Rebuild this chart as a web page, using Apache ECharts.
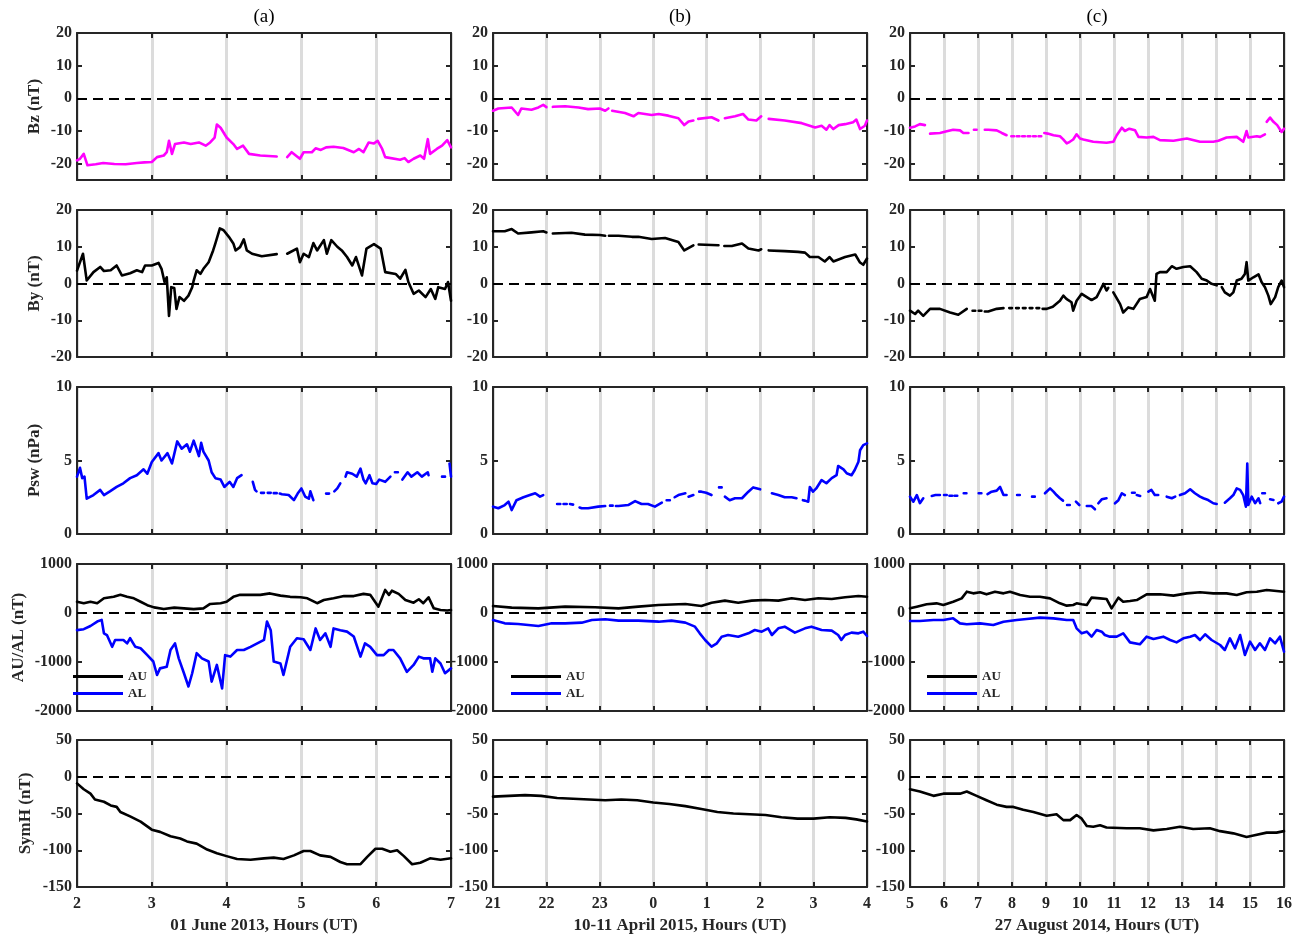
<!DOCTYPE html>
<html><head><meta charset="utf-8">
<script src="https://cdn.jsdelivr.net/npm/echarts@6/dist/echarts.min.js"></script>
<style>html,body{margin:0;padding:0;background:#fff}#c{width:1299px;height:938px}</style>
</head><body><div id="c"></div><script>
// ---------- tick labels ----------
const bzTicks = [-20,-10,0,10,20];
const byTicks = [-20,-10,0,10,20];
const pswTicks = [0,5,10];
const aeTicks = [-2000,-1000,0,1000];
const symTicks = [-150,-100,-50,0,50];

// ---------- column (a): 01 June 2013 ----------
const bzA = [[2.00,-19],[2.04,-18.5],[2.09,-17],[2.14,-20.5],[2.25,-20.2],[2.35,-19.8],[2.5,-20.1],[2.65,-20.2],[2.8,-19.8],[2.9,-19.6],[3.0,-19.5],[3.07,-18],[3.16,-17.5],[3.2,-16.5],[3.23,-13],[3.27,-17],[3.31,-14],[3.43,-13.5],[3.52,-14],[3.63,-13.5],[3.72,-14.5],[3.78,-13.5],[3.84,-12],[3.87,-8],[3.92,-9],[4.0,-12],[4.09,-14],[4.14,-15.5],[4.22,-14.5],[4.3,-17],[4.45,-17.5],[4.67,-17.8],[4.72,null],[4.81,-18],[4.87,-16.5],[4.98,-18.5],[5.03,-16.5],[5.14,-16.5],[5.19,-15.3],[5.26,-15.8],[5.33,-15],[5.43,-14.8],[5.56,-15.2],[5.7,-16.5],[5.77,-15.5],[5.83,-16.5],[5.9,-13.5],[5.97,-13.8],[6.02,-13],[6.08,-15.5],[6.12,-18],[6.32,-18.8],[6.38,-18.3],[6.43,-19.5],[6.5,-18.5],[6.59,-17.5],[6.64,-18.5],[6.69,-12.5],[6.72,-17],[6.81,-15.5],[6.88,-14.5],[6.95,-12.8],[7.0,-15]];
const byA = [[2.0,3.5],[2.08,8.1],[2.13,0.8],[2.22,3.1],[2.31,4.5],[2.36,3.4],[2.45,3.6],[2.53,4.9],[2.6,2.2],[2.71,2.8],[2.8,3.6],[2.87,3.1],[2.91,4.9],[3.0,4.9],[3.09,5.6],[3.13,4.0],[3.17,0.4],[3.2,1.7],[3.23,-8.8],[3.26,-1],[3.3,-1.2],[3.33,-6.9],[3.37,-3.7],[3.43,-4.7],[3.49,-3.3],[3.54,-1],[3.56,0.8],[3.6,3.6],[3.65,2.6],[3.69,4.0],[3.76,5.8],[3.82,9],[3.85,10.9],[3.91,15],[3.96,14.5],[4.03,12.7],[4.09,10.9],[4.12,9],[4.18,9.9],[4.23,12],[4.27,9],[4.34,8.1],[4.47,7.4],[4.67,8],[4.72,null],[4.81,8.1],[4.94,9.5],[4.98,5.8],[5.03,8.1],[5.1,7.2],[5.16,11],[5.21,9],[5.3,11.8],[5.34,8.1],[5.4,11.8],[5.48,10],[5.54,9],[5.61,7.2],[5.68,4.9],[5.73,7.2],[5.81,2.2],[5.87,9.5],[5.97,10.7],[6.06,9.5],[6.12,3.1],[6.26,2.6],[6.32,1.3],[6.39,3.7],[6.43,0.4],[6.5,-2.8],[6.57,-1.9],[6.66,-3.7],[6.73,-1.5],[6.79,-4.2],[6.83,-1],[6.92,-1.5],[6.96,0.4],[7.0,-4.7]];
const pswA = [[2.00,3.9],[2.04,4.5],[2.07,3.8],[2.10,3.9],[2.13,2.4],[2.22,2.65],[2.31,3.0],[2.36,2.65],[2.44,2.9],[2.53,3.2],[2.62,3.45],[2.71,3.8],[2.8,4.0],[2.89,4.4],[2.94,4.1],[3.0,4.9],[3.09,5.5],[3.13,5.0],[3.21,5.5],[3.27,4.8],[3.34,6.3],[3.40,5.8],[3.47,6.1],[3.51,5.6],[3.56,6.35],[3.63,5.3],[3.66,6.2],[3.69,5.6],[3.76,5.0],[3.8,4.2],[3.85,3.8],[3.92,3.7],[3.97,3.2],[4.04,3.55],[4.09,3.2],[4.14,3.8],[4.2,4.0],[4.25,null],[4.35,3.55],[4.38,3.0],[4.40,2.9],[4.41,null],[4.46,2.8],[4.50,2.8],[4.51,null],[4.55,2.8],[4.59,2.8],[4.60,null],[4.63,2.78],[4.67,2.78],[4.68,null],[4.71,2.75],[4.74,2.7],[4.83,2.65],[4.9,2.3],[4.95,2.75],[5.0,3.1],[5.05,2.55],[5.1,2.4],[5.12,2.9],[5.16,2.3],[5.18,null],[5.33,2.75],[5.37,2.75],[5.38,null],[5.44,2.9],[5.48,3.1],[5.52,3.45],[5.56,null],[5.59,3.9],[5.61,4.2],[5.68,4.1],[5.74,3.9],[5.79,4.45],[5.83,3.7],[5.86,3.45],[5.91,4.0],[5.95,3.45],[6.0,3.4],[6.04,3.7],[6.12,3.55],[6.19,3.9],[6.22,null],[6.25,4.2],[6.29,4.2],[6.30,null],[6.35,3.7],[6.42,4.2],[6.47,3.9],[6.55,4.2],[6.61,3.9],[6.69,4.2],[6.7,4.0],[6.71,null],[6.88,3.9],[6.92,3.9],[6.93,null],[6.98,4.8],[7.0,3.9]];
const auA = [[2.0,230],[2.09,200],[2.18,230],[2.27,200],[2.36,300],[2.49,330],[2.58,370],[2.67,330],[2.76,300],[2.85,230],[2.94,160],[3.03,115],[3.16,80],[3.3,110],[3.43,95],[3.56,80],[3.69,95],[3.78,185],[3.92,200],[4.0,230],[4.09,330],[4.18,370],[4.32,370],[4.45,370],[4.58,400],[4.72,355],[4.85,330],[4.99,320],[5.08,300],[5.21,200],[5.3,265],[5.43,300],[5.57,345],[5.7,345],[5.83,390],[5.92,370],[6.03,130],[6.12,470],[6.17,370],[6.21,455],[6.3,390],[6.39,265],[6.5,210],[6.57,280],[6.63,200],[6.7,320],[6.77,95],[6.86,60],[6.95,50],[7.0,60]];
const alA = [[2.0,-350],[2.09,-330],[2.18,-265],[2.27,-175],[2.33,-140],[2.36,-415],[2.4,-450],[2.47,-690],[2.51,-550],[2.62,-550],[2.67,-620],[2.71,-515],[2.78,-690],[2.85,-720],[2.94,-860],[3.02,-990],[3.07,-1265],[3.11,-1130],[3.2,-1095],[3.25,-755],[3.31,-620],[3.36,-925],[3.43,-1230],[3.49,-1500],[3.54,-1230],[3.6,-820],[3.67,-925],[3.76,-990],[3.8,-1400],[3.87,-1060],[3.94,-1540],[3.98,-860],[4.05,-890],[4.14,-755],[4.23,-755],[4.32,-690],[4.41,-620],[4.5,-550],[4.54,-175],[4.59,-350],[4.63,-990],[4.72,-1030],[4.76,-1265],[4.85,-690],[4.94,-515],[5.03,-535],[5.12,-755],[5.19,-315],[5.25,-550],[5.32,-415],[5.39,-690],[5.43,-315],[5.52,-350],[5.61,-380],[5.7,-480],[5.79,-890],[5.85,-620],[5.92,-690],[6.01,-860],[6.1,-860],[6.17,-755],[6.23,-755],[6.32,-925],[6.41,-1200],[6.5,-1060],[6.57,-890],[6.63,-925],[6.72,-925],[6.75,-1200],[6.79,-925],[6.86,-1030],[6.92,-1230],[7.0,-1130]];
const symA = [[2.0,-9],[2.09,-17],[2.18,-23],[2.24,-31],[2.36,-34],[2.45,-39],[2.53,-41],[2.58,-48],[2.71,-54],[2.85,-61],[3.0,-72],[3.11,-75],[3.25,-81],[3.38,-84],[3.47,-88],[3.6,-91],[3.74,-99],[3.87,-104],[4.0,-108],[4.14,-112],[4.32,-113],[4.5,-111],[4.63,-110],[4.76,-112],[4.9,-107],[5.03,-101],[5.12,-101],[5.25,-107],[5.39,-109],[5.52,-116],[5.61,-119],[5.79,-119],[5.88,-109],[5.99,-98],[6.08,-98],[6.19,-102],[6.28,-100],[6.37,-108],[6.48,-119],[6.59,-117],[6.72,-111],[6.86,-113],[7.0,-111]];

// ---------- column (b): 10-11 April 2015 (hours after 24 = next day) ----------
const bzB = [[21.0,-3.8],[21.1,-3.1],[21.35,-2.8],[21.47,-5.1],[21.53,-3.1],[21.72,-3.5],[21.85,-2.8],[21.94,-2.0],[22.0,-2.7],[22.04,null],[22.12,-2.6],[22.35,-2.4],[22.6,-2.8],[22.78,-3.3],[23.0,-3.1],[23.1,-3.8],[23.16,-3.1],[23.19,null],[23.23,-3.8],[23.47,-4.5],[23.63,-5.5],[23.72,-4.5],[23.97,-5.1],[24.1,-4.8],[24.28,-5.3],[24.47,-6.1],[24.58,-8.2],[24.66,-7.1],[24.75,-6.8],[24.78,null],[24.84,-6.3],[25.09,-5.8],[25.22,-6.8],[25.26,null],[25.34,-6.1],[25.53,-5.5],[25.68,-4.8],[25.78,-6.5],[25.93,-6.8],[26.02,-5.5],[26.05,null],[26.16,-6.3],[26.46,-6.8],[26.78,-7.6],[27.03,-8.9],[27.15,-8.4],[27.24,-9.6],[27.3,-8.2],[27.37,-9.4],[27.47,-8.2],[27.59,-7.9],[27.74,-7.3],[27.8,-6.5],[27.87,-9.4],[27.96,-8.4],[28.0,-6.8]];
const byB = [[21.0,14.2],[21.22,14.2],[21.35,14.8],[21.47,13.6],[21.72,13.9],[21.94,14.2],[22.0,13.9],[22.04,null],[22.12,13.6],[22.47,13.8],[22.72,13.3],[23.0,13.2],[23.1,13.0],[23.13,null],[23.17,13.0],[23.35,13.0],[23.6,12.7],[23.72,12.7],[23.97,12.1],[24.22,12.4],[24.47,11.3],[24.58,9.0],[24.75,10.4],[24.78,null],[24.85,10.6],[25.22,10.4],[25.26,null],[25.33,10.2],[25.47,10.2],[25.66,10.9],[25.78,9.5],[25.97,9.0],[26.02,9.3],[26.05,null],[26.16,9.0],[26.46,8.8],[26.71,8.6],[26.84,8.4],[26.93,7.2],[27.09,7.2],[27.21,6.0],[27.3,7.2],[27.37,6.0],[27.59,7.2],[27.78,7.9],[27.87,5.7],[27.93,5.1],[28.0,6.8]];
const pswB = [[21.0,1.86],[21.1,1.75],[21.22,1.97],[21.29,2.2],[21.35,1.63],[21.44,2.3],[21.57,2.5],[21.69,2.65],[21.79,2.77],[21.88,2.54],[21.94,2.65],[21.97,null],[22.2,2.04],[22.26,2.04],[22.27,null],[22.32,2.04],[22.38,2.04],[22.39,null],[22.44,2.04],[22.5,2.0],[22.51,null],[22.62,1.8],[22.66,1.75],[22.78,1.75],[22.97,1.86],[23.1,1.9],[23.15,null],[23.19,1.93],[23.24,1.93],[23.25,null],[23.3,1.9],[23.35,1.9],[23.53,1.97],[23.66,2.24],[23.78,2.04],[23.9,2.04],[24.03,1.86],[24.16,2.13],[24.2,null],[24.25,2.3],[24.31,2.3],[24.32,null],[24.4,2.5],[24.47,2.65],[24.6,2.77],[24.62,null],[24.66,2.54],[24.75,2.65],[24.78,null],[24.86,2.88],[24.9,2.88],[24.99,2.81],[25.09,2.65],[25.12,null],[25.23,3.17],[25.28,3.17],[25.29,null],[25.34,2.54],[25.43,2.3],[25.53,2.43],[25.66,2.43],[25.78,2.88],[25.87,3.17],[26.0,3.04],[26.04,null],[26.22,2.77],[26.34,2.65],[26.46,2.5],[26.59,2.5],[26.68,2.43],[26.72,null],[26.8,2.3],[26.84,2.27],[26.9,2.2],[26.93,3.2],[26.99,2.88],[27.05,3.1],[27.15,3.67],[27.24,3.45],[27.34,3.8],[27.43,4.0],[27.46,4.63],[27.56,4.4],[27.62,4.13],[27.71,4.0],[27.77,4.35],[27.84,4.92],[27.87,5.7],[27.93,6.05],[28.0,6.17]];
const auB = [[21.0,143],[21.35,109],[21.85,95],[22.35,130],[22.91,116],[23.35,95],[23.72,130],[24.1,163],[24.6,184],[24.9,143],[25.09,211],[25.34,252],[25.59,211],[25.84,252],[26.09,265],[26.34,252],[26.59,300],[26.84,265],[27.09,300],[27.34,285],[27.59,320],[27.84,347],[28.0,333]];
const alB = [[21.0,-143],[21.22,-211],[21.47,-224],[21.85,-265],[22.1,-211],[22.35,-211],[22.66,-197],[22.85,-143],[23.1,-129],[23.35,-156],[23.72,-156],[24.1,-177],[24.34,-156],[24.6,-197],[24.78,-279],[24.87,-415],[24.97,-551],[25.09,-687],[25.19,-619],[25.28,-483],[25.4,-449],[25.59,-483],[25.78,-415],[25.9,-347],[26.03,-381],[26.15,-313],[26.22,-449],[26.34,-313],[26.46,-279],[26.65,-401],[26.84,-313],[26.96,-279],[27.15,-347],[27.34,-360],[27.46,-449],[27.52,-551],[27.59,-449],[27.71,-401],[27.84,-415],[27.93,-381],[28.0,-469]];
const symB = [[21.0,-27],[21.3,-26],[21.6,-25],[21.9,-26],[22.2,-29],[22.5,-30],[22.8,-31],[23.1,-32],[23.4,-31],[23.7,-32],[24.0,-35],[24.3,-37],[24.6,-40],[24.9,-44],[25.2,-48],[25.5,-50],[25.8,-51],[26.1,-52],[26.4,-55],[26.7,-57],[27.0,-57],[27.3,-55],[27.6,-56],[27.8,-58],[28.0,-61]];

// ---------- column (c): 27 August 2014 ----------
const bzC = [[5.0,-9],[5.15,-8.6],[5.29,-7.9],[5.44,-8.2],[5.5,null],[5.59,-10.8],[5.88,-10.6],[6.08,-10.1],[6.27,-9.6],[6.47,-9.8],[6.57,-10.6],[6.72,-10.6],[6.76,null],[6.88,-9.6],[6.96,-9.6],[6.97,null],[7.2,-9.6],[7.3,-9.6],[7.55,-9.8],[7.7,-10.6],[7.84,-11.3],[7.88,null],[7.98,-11.6],[8.06,-11.6],[8.07,null],[8.14,-11.6],[8.22,-11.6],[8.23,null],[8.3,-11.6],[8.38,-11.6],[8.39,null],[8.46,-11.6],[8.54,-11.6],[8.55,null],[8.62,-11.6],[8.7,-11.6],[8.71,null],[8.78,-11.6],[8.86,-11.6],[8.87,null],[8.95,-10.6],[9.05,-10.8],[9.22,-11.3],[9.41,-11.6],[9.5,-12.5],[9.61,-13.8],[9.7,-13.3],[9.8,-12.6],[9.9,-11],[10.0,-12.3],[10.1,-12.6],[10.39,-13.3],[10.78,-13.6],[10.98,-13.3],[11.08,-11.3],[11.23,-9],[11.32,-10],[11.45,-9.3],[11.62,-9.8],[11.72,-11.8],[11.96,-12],[12.16,-11.8],[12.35,-12.8],[12.75,-13],[13.14,-12.3],[13.53,-13.3],[13.92,-13.3],[14.07,-13],[14.31,-12],[14.61,-11.8],[14.8,-13.3],[14.9,-10],[14.95,-12],[15.2,-11.6],[15.3,-11.8],[15.44,-11],[15.46,null],[15.49,-7.2],[15.59,-5.9],[15.69,-7.2],[15.8,-8.2],[15.93,-10.3],[16.0,-9.3]];
const byC = [[5.0,-7.4],[5.15,-8.3],[5.24,-7.4],[5.39,-8.8],[5.59,-6.9],[5.88,-6.9],[6.18,-7.9],[6.42,-8.5],[6.67,-6.9],[6.72,null],[6.84,-7.4],[6.92,-7.4],[6.93,null],[7.02,-7.4],[7.1,-7.4],[7.11,null],[7.2,-7.6],[7.3,-7.6],[7.55,-6.9],[7.75,-6.7],[7.8,null],[7.92,-6.7],[8.0,-6.7],[8.01,null],[8.12,-6.7],[8.2,-6.7],[8.21,null],[8.32,-6.7],[8.4,-6.7],[8.41,null],[8.52,-6.7],[8.6,-6.7],[8.61,null],[8.72,-6.7],[8.8,-6.7],[8.81,null],[8.9,-6.9],[9.02,-6.9],[9.2,-6.3],[9.41,-4.7],[9.51,-3.3],[9.6,-4.2],[9.75,-5.1],[9.8,-7.4],[9.9,-4.7],[10.05,-2.8],[10.2,-3.7],[10.34,-4.5],[10.49,-3.7],[10.59,-1.9],[10.69,-0.1],[10.78,-1.9],[10.83,-1.2],[10.88,null],[10.98,-2.4],[11.18,-5.6],[11.27,-7.9],[11.42,-6.5],[11.57,-6.9],[11.76,-4.2],[11.96,-3.7],[12.06,-1.5],[12.2,-4.7],[12.25,2.6],[12.35,3.1],[12.55,3.1],[12.7,4.7],[12.84,4.0],[13.04,4.5],[13.24,4.7],[13.43,3.1],[13.58,1.3],[13.73,0.8],[13.87,-0.1],[14.02,-0.5],[14.08,null],[14.17,-1],[14.26,-2.4],[14.41,-3.3],[14.51,-2.4],[14.61,0.8],[14.75,1.3],[14.85,2.6],[14.9,5.8],[14.95,0.8],[15.1,1.7],[15.25,2.5],[15.34,0.4],[15.44,-1],[15.54,-3.3],[15.61,-5.6],[15.74,-3.7],[15.83,-1],[15.93,0.8],[16.0,-1]];
const pswC = [[5.0,2.54],[5.05,2.43],[5.1,2.2],[5.2,2.65],[5.29,2.1],[5.39,2.43],[5.44,null],[5.64,2.59],[5.75,2.65],[5.88,2.65],[5.92,null],[6.0,2.65],[6.08,2.65],[6.09,null],[6.16,2.6],[6.24,2.6],[6.25,null],[6.31,2.6],[6.39,2.6],[6.4,null],[6.58,2.77],[6.66,2.77],[6.67,null],[7.02,2.77],[7.1,2.77],[7.11,null],[7.28,2.72],[7.4,2.88],[7.55,2.95],[7.65,3.2],[7.75,2.65],[7.84,2.65],[7.88,null],[8.15,2.65],[8.23,2.65],[8.24,null],[8.59,2.54],[8.67,2.54],[8.68,null],[8.97,2.77],[9.12,3.1],[9.22,2.88],[9.31,2.65],[9.41,2.43],[9.5,2.27],[9.55,null],[9.62,1.97],[9.7,1.97],[9.71,null],[9.88,2.2],[9.98,1.97],[10.02,null],[10.2,1.9],[10.34,1.9],[10.44,1.68],[10.48,null],[10.54,2.09],[10.64,2.36],[10.78,2.43],[10.82,null],[11.03,2.09],[11.13,2.3],[11.23,2.77],[11.32,2.65],[11.36,null],[11.53,2.81],[11.61,2.81],[11.62,null],[11.67,2.65],[11.77,2.59],[11.8,null],[12.01,2.88],[12.1,3.0],[12.2,2.65],[12.3,2.65],[12.35,null],[12.55,2.54],[12.7,2.43],[12.8,2.54],[12.85,null],[12.94,2.65],[13.09,2.77],[13.24,3.04],[13.38,2.77],[13.53,2.54],[13.63,2.43],[13.77,2.31],[13.92,2.09],[14.02,2.04],[14.08,null],[14.26,2.13],[14.41,2.43],[14.51,2.65],[14.61,3.1],[14.71,3.0],[14.8,2.65],[14.88,1.86],[14.92,4.8],[14.95,1.97],[15.05,2.54],[15.15,2.1],[15.25,2.43],[15.3,2.1],[15.34,null],[15.36,2.77],[15.44,2.77],[15.45,null],[15.59,2.36],[15.69,2.31],[15.74,null],[15.83,2.09],[15.93,2.2],[16.0,2.54]];
const auC = [[5.0,95],[5.2,129],[5.49,177],[5.78,197],[5.98,163],[6.27,231],[6.52,299],[6.67,435],[6.86,401],[7.06,422],[7.25,381],[7.5,435],[7.75,401],[7.94,435],[8.24,367],[8.53,333],[8.82,333],[9.12,299],[9.41,197],[9.61,150],[9.8,163],[9.9,197],[10.05,177],[10.2,163],[10.34,313],[10.59,299],[10.78,286],[10.93,95],[11.13,313],[11.27,231],[11.47,245],[11.67,265],[11.96,381],[12.35,381],[12.75,354],[13.14,401],[13.53,422],[13.92,401],[14.31,401],[14.61,367],[14.9,422],[15.2,435],[15.49,469],[15.78,449],[16.0,435]];
const alC = [[5.0,-163],[5.29,-163],[5.69,-143],[5.98,-143],[6.27,-109],[6.47,-211],[6.67,-231],[7.06,-211],[7.45,-245],[7.75,-177],[8.14,-143],[8.43,-122],[8.82,-95],[9.22,-109],[9.61,-143],[9.8,-143],[9.9,-313],[10.05,-415],[10.2,-381],[10.34,-483],[10.49,-347],[10.64,-381],[10.73,-449],[10.88,-483],[11.08,-483],[11.27,-415],[11.47,-599],[11.76,-639],[11.96,-483],[12.16,-530],[12.45,-483],[12.65,-551],[12.84,-599],[13.04,-517],[13.24,-483],[13.38,-449],[13.53,-551],[13.68,-435],[13.87,-551],[14.12,-653],[14.26,-755],[14.41,-517],[14.56,-721],[14.71,-449],[14.85,-857],[15.0,-585],[15.15,-755],[15.29,-619],[15.44,-755],[15.59,-517],[15.74,-619],[15.88,-483],[16.0,-789]];
const symC = [[5.0,-17],[5.29,-20],[5.69,-26],[5.98,-23],[6.47,-23],[6.67,-20],[6.96,-26],[7.25,-32],[7.55,-38],[7.84,-41],[8.04,-41],[8.33,-45],[8.63,-48],[9.02,-53],[9.31,-51],[9.51,-59],[9.71,-59],[9.9,-52],[10.05,-57],[10.2,-67],[10.39,-68],[10.59,-66],[10.78,-69],[11.37,-70],[11.76,-70],[12.16,-73],[12.55,-71],[12.94,-68],[13.33,-71],[13.82,-70],[14.12,-74],[14.51,-77],[14.9,-82],[15.1,-80],[15.49,-76],[15.78,-76],[16.0,-74]];

// ---------- layout ----------
const FONT = 'Liberation Serif';
const INK = '#262626';
const cols = [
  {left: 77, xMin: 2, xMax: 7, title: '(a)', xName: '01 June 2013, Hours (UT)', legendLeft: 73},
  {left: 493, xMin: 21, xMax: 28, title: '(b)', xName: '10-11 April 2015, Hours (UT)', legendLeft: 511},
  {left: 910, xMin: 5, xMax: 16, title: '(c)', xName: '27 August 2014, Hours (UT)', legendLeft: 927}
];
const PW = 374, PH = 147;
const rows = [
  {top: 33, name: 'Bz (nT)', min: -25, max: 20, ticks: bzTicks, gap: 34, zero: true,
   series: [[{name: 'Bz', data: bzA, color: '#ff00ff'}], [{name: 'Bz', data: bzB, color: '#ff00ff'}], [{name: 'Bz', data: bzC, color: '#ff00ff'}]]},
  {top: 210, name: 'By (nT)', min: -20, max: 20, ticks: byTicks, gap: 34, zero: true,
   series: [[{name: 'By', data: byA, color: '#000'}], [{name: 'By', data: byB, color: '#000'}], [{name: 'By', data: byC, color: '#000'}]]},
  {top: 387, name: 'Psw (nPa)', min: 0, max: 10, ticks: pswTicks, gap: 34, zero: false,
   series: [[{name: 'Psw', data: pswA, color: '#0000ff'}], [{name: 'Psw', data: pswB, color: '#0000ff'}], [{name: 'Psw', data: pswC, color: '#0000ff'}]]},
  {top: 564, name: 'AU/AL (nT)', min: -2000, max: 1000, ticks: aeTicks, gap: 50, zero: true, legend: true,
   series: [[{name: 'AU', data: auA, color: '#000'}, {name: 'AL', data: alA, color: '#0000ff'}],
            [{name: 'AU', data: auB, color: '#000'}, {name: 'AL', data: alB, color: '#0000ff'}],
            [{name: 'AU', data: auC, color: '#000'}, {name: 'AL', data: alC, color: '#0000ff'}]]},
  {top: 740, name: 'SymH (nT)', min: -150, max: 50, ticks: symTicks, gap: 43, zero: true, bottom: true,
   series: [[{name: 'SymH', data: symA, color: '#000'}], [{name: 'SymH', data: symB, color: '#000'}], [{name: 'SymH', data: symC, color: '#000'}]]}
];

const grid = [], xAxis = [], yAxis = [], series = [], legend = [], graphic = [];
const tickStyle = {show: true, inside: true, length: 5, lineStyle: {color: INK, width: 2}};
const lineStyle = {show: true, onZero: false, lineStyle: {color: INK, width: 2}};
const lblStyle = {fontFamily: FONT, fontWeight: 'bold', fontSize: 16, color: INK};

rows.forEach((r, ri) => {
  cols.forEach((c, ci) => {
    const gi = grid.length;
    grid.push({left: c.left, top: r.top, width: PW, height: PH, containLabel: false, outerBoundsMode: 'none'});
    const xBase = {type: 'value', gridIndex: gi, min: c.xMin, max: c.xMax, interval: 1,
      axisLine: lineStyle, axisTick: tickStyle};
    xAxis.push(Object.assign({}, xBase, {
      position: 'bottom',
      splitLine: {show: true, lineStyle: {color: '#dcdcdc', width: 3}},
      axisLabel: Object.assign({show: !!r.bottom, margin: 9, formatter: v => String(((v % 24) + 24) % 24)}, lblStyle),
      name: r.bottom ? c.xName : '', nameLocation: 'middle', nameGap: 30,
      nameTextStyle: {fontFamily: FONT, fontWeight: 'bold', fontSize: 17, color: INK}
    }));
    xAxis.push(Object.assign({}, xBase, {position: 'top', splitLine: {show: false}, axisLabel: {show: false}}));
    const yBase = {type: 'value', gridIndex: gi, min: r.min, max: r.max,
      axisLine: lineStyle, splitLine: {show: false},
      axisTick: Object.assign({customValues: r.ticks}, tickStyle)};
    yAxis.push(Object.assign({}, yBase, {
      position: 'left',
      axisLabel: Object.assign({show: true, margin: 5, customValues: r.ticks, formatter: v => String(v)}, lblStyle),
      name: ci === 0 ? r.name : '', nameLocation: 'middle', nameGap: r.gap, nameRotate: 90,
      nameTextStyle: {fontFamily: FONT, fontWeight: 'bold', fontSize: 17, color: INK}
    }));
    yAxis.push(Object.assign({}, yBase, {position: 'right', axisLabel: {show: false}}));
    r.series[ci].forEach((s, si) => {
      const ser = {
        type: 'line', name: s.name, xAxisIndex: 2 * gi, yAxisIndex: 2 * gi,
        data: s.data.map(p => [p[0], p[1] === null ? '-' : p[1]]),
        showSymbol: false, connectNulls: false, silent: true, animation: false,
        lineStyle: {color: s.color, width: 2.6, cap: 'round', join: 'round'}, itemStyle: {color: s.color}, z: 3 + si
      };
      if (si === 0 && r.zero) {
        ser.markLine = {silent: true, symbol: ['none', 'none'], animation: false,
          label: {show: false}, lineStyle: {color: '#000', type: [10, 6], width: 2},
          data: [{yAxis: 0}]};
      }
      series.push(ser);
    });
    if (r.legend) {
      legend.push({data: ['AU', 'AL'], orient: 'vertical', left: c.legendLeft, top: 670, padding: 0,
        icon: 'rect', itemWidth: 50, itemHeight: 3, itemGap: 4, selectedMode: false,
        textStyle: {fontFamily: FONT, fontWeight: 'bold', fontSize: 13, color: INK}});
    }
  });
});
cols.forEach(c => {
  graphic.push({type: 'text', x: c.left + PW / 2, y: 17,
    style: {text: c.title, align: 'center', verticalAlign: 'middle', textAlign: 'center', textVerticalAlign: 'middle',
      fontFamily: FONT, fontSize: 19, fill: '#000'}});
});

const chart = echarts.init(document.getElementById('c'), null, {renderer: 'canvas'});
chart.setOption({backgroundColor: '#fff', animation: false, grid, xAxis, yAxis, series, legend, graphic});
</script></body></html>
